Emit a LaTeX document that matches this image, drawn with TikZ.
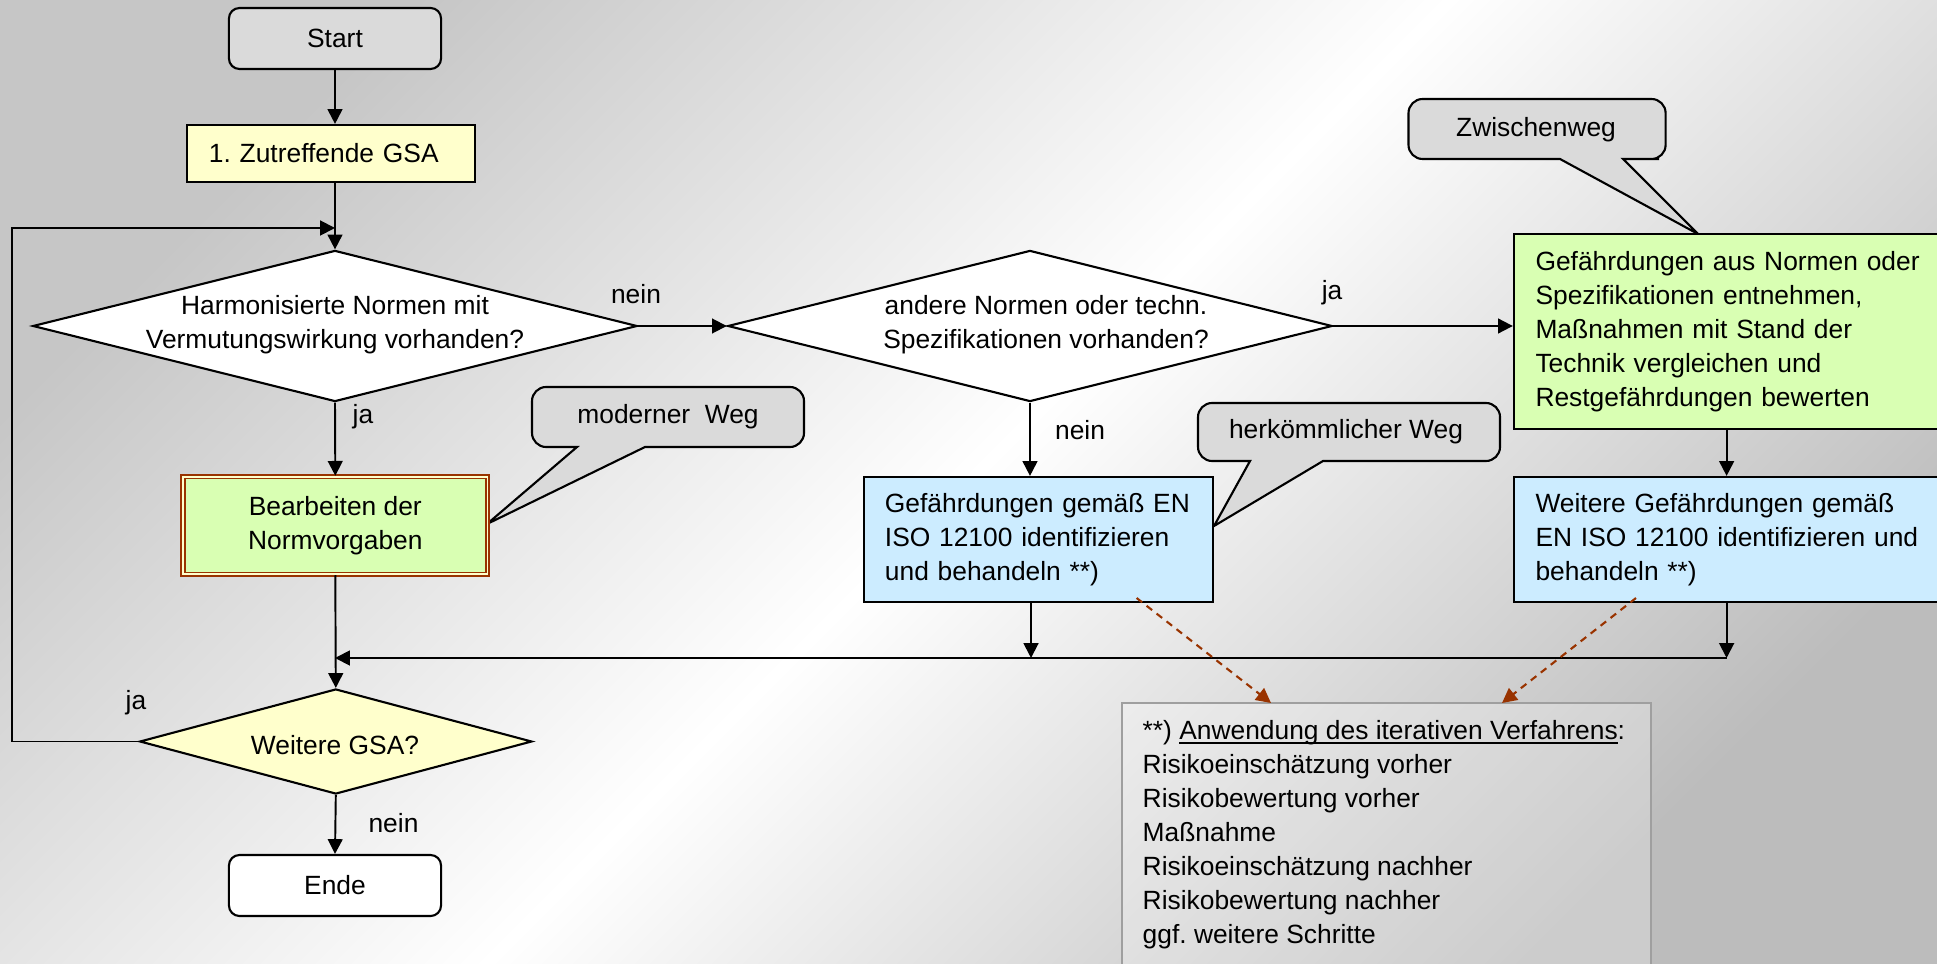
\documentclass[tikz,border=0pt]{standalone}
\usepackage{fontspec}
\setmainfont{Liberation Sans}
\usetikzlibrary{shapes.geometric,arrows.meta}
\definecolor{cyel}{HTML}{FFFFCC}
\definecolor{cgrn}{HTML}{D9FFB3}
\definecolor{cblu}{HTML}{CCECFF}
\definecolor{cbrn}{HTML}{993300}
\definecolor{cgry}{HTML}{DADADA}
\definecolor{cbg}{HTML}{C6C6C6}
\newcommand\myul[1]{\setbox0\hbox{#1}\rlap{\rule[-1.1pt]{\wd0}{0.45pt}}\box0}
\frenchspacing
\begin{document}
\begin{tikzpicture}[x=0.01cm,y=-0.01cm,
  every node/.style={font=\fontsize{7.5}{9.67}\selectfont, inner sep=0pt},
  term/.style={draw, line width=0.6pt, rounded corners=3pt, minimum width=2.12cm, minimum height=0.61cm},
  proc/.style={draw, line width=0.6pt, rectangle},
  dec/.style={draw, line width=0.6pt, diamond, inner sep=0pt},
  arr/.style={line width=0.55pt, -{Triangle[length=4.2pt,width=4.2pt]}},
  darr/.style={cbrn, line width=0.6pt, dash pattern=on 2pt off 1.6pt, -{Triangle[length=4.2pt,width=4.2pt]}},
  cbox/.style={fill=cgry, draw, line width=0.6pt}
]
\useasboundingbox (0,0) rectangle (1937,964);
\clip (0,0) rectangle (1937,964);
\shade[top color=cbg, bottom color=cbg!95!black, middle color=white, shading angle=45] (-10,-10) rectangle (1947,974);

% callouts
\draw[cbox] (532,417) [rounded corners=4pt] -- (532,387) -- (804,387) -- (804,447) -- (720,447) [sharp corners] -- (645,447) -- (487,524) -- (577,447) -- (560,447) [rounded corners=4pt] -- (532,447) -- cycle;
\draw[cbox] (1198,432) [rounded corners=4pt] -- (1198,403) -- (1500,403) -- (1500,461) -- (1400,461) [sharp corners] -- (1323,461) -- (1214,526) -- (1250,461) -- (1230,461) [rounded corners=4pt] -- (1198,461) -- cycle;
\draw[cbox] (1408.5,129) [rounded corners=4pt] -- (1408.5,99) -- (1665.6,99) -- (1665.6,159) -- (1645,159) [sharp corners] -- (1623,159) -- (1698,234) -- (1560,159) -- (1500,159) [rounded corners=4pt] -- (1408.5,159) -- cycle;
\node (cmod) at (668,417) {moderner\ \ Weg};
\node (cher) at (1346,432) {herkömmlicher Weg};
\node (czw) at (1536,130) {Zwischenweg};

% nodes
\node[term, fill=cgry] (start) at (335,38.5) {Start};
\node[proc, fill=cyel, minimum width=2.87cm, minimum height=0.57cm, text width=2.44cm, inner xsep=0.215cm, align=left] (gsa) at (331,153.5) {1. Zutreffende GSA};
\node[dec, fill=white, minimum width=6.04cm, minimum height=1.51cm] (d1) at (335,326) {};
\node[align=center] (d1t) at (335,325) {Harmonisierte Normen mit\\Vermutungswirkung vorhanden?};
\node[dec, fill=white, minimum width=6.04cm, minimum height=1.51cm] (d2) at (1030,326) {};
\node[align=center] (d2t) at (1046,325) {andere Normen oder techn.\\Spezifikationen vorhanden?};
\node[rectangle, fill=cgrn, draw=cbrn, double=cyel, double distance=0.45pt, line width=0.55pt, minimum width=3.04cm, minimum height=0.975cm, align=center] (bear) at (335.3,525.5) {Bearbeiten der\\Normvorgaben};
\node[dec, fill=cyel, minimum width=3.92cm, minimum height=1.05cm] (d3) at (335.8,741.5) {};
\node (d3t) at (335,745) {Weitere GSA?};
\node[term, fill=white] (ende) at (335,885.5) {Ende};
\node[proc, fill=cblu, minimum width=3.482cm, minimum height=1.25cm, text width=3.068cm, inner xsep=0.207cm, align=left] (blue1) at (1038.4,539.5) {Gefährdungen gemäß EN\\ISO 12100 identifizieren\\und behandeln **)};
\node[proc, fill=cgrn, minimum width=4.36cm, minimum height=1.95cm, text width=3.928cm, inner xsep=0.216cm, align=left] (green) at (1732,331.5) {Gefährdungen aus Normen oder\\Spezifikationen entnehmen,\\Maßnahmen mit Stand der\\Technik vergleichen und\\Restgefährdungen bewerten};
\node[proc, fill=cblu, minimum width=4.36cm, minimum height=1.25cm, text width=3.928cm, inner xsep=0.216cm, align=left] (blue2) at (1732,539.5) {Weitere Gefährdungen gemäß\\EN ISO 12100 identifizieren und\\behandeln **)};
\node[draw=gray!75, line width=0.6pt, fill=white, fill opacity=0.25, minimum width=5.286cm, minimum height=2.77cm] (note) at (1386.3,841.5) {};
\node[anchor=north west, align=left] (notetxt) at (1142,720) {**) \myul{Anwendung des iterativen Verfahrens}:\\Risikoeinschätzung vorher\\Risikobewertung vorher\\Maßnahme\\Risikoeinschätzung nachher\\Risikobewertung nachher\\ggf. weitere Schritte};

% labels
\node (l1) at (636,294) {nein};
\node (l2) at (363,417) {ja};
\node (l3) at (1332,293) {ja};
\node (l4) at (1080,430) {nein};
\node (l5) at (136,703) {ja};
\node (l6) at (393.5,823) {nein};

% coordinates
\coordinate (lpA) at (12,741.5);
\coordinate (lpB) at (335,228);
\coordinate (gb) at (1726.6,0);
\coordinate (m0) at (335,658);
\coordinate (m1) at (1031,658);
\coordinate (m2) at (1726.6,658);
\coordinate (da1) at (1136.6,598);
\coordinate (db1) at (1271,703);
\coordinate (da2) at (1636,598);
\coordinate (db2) at (1502,703);

% connectors
\draw[arr] (start.south) -- (start.south |- gsa.north);
\draw[arr] (d1.north |- gsa.south) -- (d1.north);
\draw[arr] (d3.west) -- (lpA) -- (lpA |- lpB) -- (lpB);
\draw[arr] (d1.east) -- (d2.west);
\draw[arr] (d1.south) -- (bear.north);
\draw[arr] (d2.east) -- (d2.east -| green.west);
\draw[arr] (d2.south) -- (d2.south |- blue1.north);
\draw[arr] (gb |- green.south) -- (gb |- blue2.north);
\draw[arr] (bear.south) -- (d3.north);
\draw[arr] (d3.south) -- (ende.north);
\draw[arr] (m1 |- blue1.south) -- (m1);
\draw[arr] (m2 |- blue2.south) -- (m2);
\draw[arr] (m2) -- (m0);
\draw[darr] (da1) -- (db1);
\draw[darr] (da2) -- (db2);
\end{tikzpicture}
\end{document}
